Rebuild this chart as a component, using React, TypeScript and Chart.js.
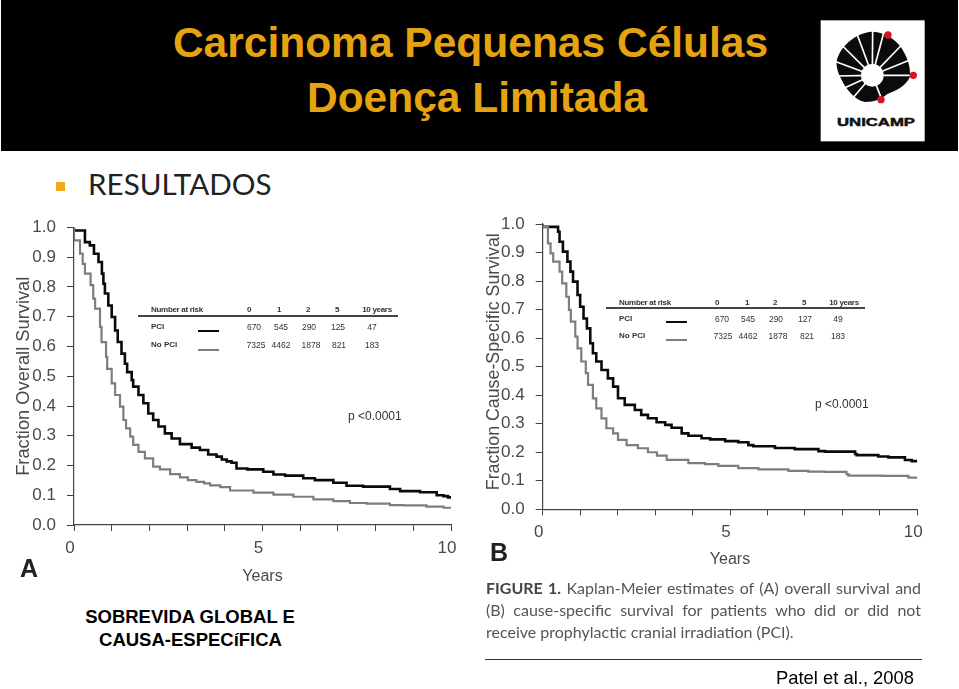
import React, { useEffect, useRef } from "react";
import { Chart, registerables } from "chart.js";

Chart.register(...registerables);

const xTickValues = [0, 5, 10];
const riskColumns = ["0", "1", "2", "5", "10 years"];

const overallPciT = [0, 0.29, 0.42, 0.53, 0.65, 0.74, 0.78, 0.82, 0.91, 1.0, 1.09, 1.16, 1.26, 1.35, 1.41, 1.53, 1.57, 1.71, 1.84, 1.97, 2.1, 2.24, 2.41, 2.59, 2.81, 3.12, 3.34, 3.56, 3.78, 3.92, 4.05, 4.18, 4.31, 4.6, 5.02, 5.29, 5.6, 6.08, 6.39, 6.88, 7.23, 7.67, 8.38, 8.65, 9.18, 9.62, 9.8, 9.92, 10];
const overallPciS = [1, 0.99, 0.951, 0.94, 0.912, 0.884, 0.845, 0.811, 0.778, 0.738, 0.699, 0.654, 0.615, 0.576, 0.542, 0.514, 0.487, 0.465, 0.437, 0.409, 0.375, 0.353, 0.331, 0.308, 0.291, 0.272, 0.26, 0.252, 0.237, 0.23, 0.22, 0.214, 0.209, 0.19, 0.187, 0.179, 0.17, 0.166, 0.157, 0.151, 0.142, 0.132, 0.129, 0.121, 0.114, 0.11, 0.1, 0.097, 0.093];
const overallNoT = [0, 0.16, 0.23, 0.29, 0.44, 0.51, 0.56, 0.69, 0.73, 0.85, 0.88, 1.0, 1.09, 1.22, 1.31, 1.38, 1.49, 1.57, 1.71, 1.88, 2.1, 2.28, 2.55, 2.81, 3.02, 3.25, 3.45, 3.61, 3.88, 4.14, 4.76, 5.29, 5.82, 6.35, 6.88, 7.32, 7.76, 8.38, 8.73, 9.35, 9.8, 10];
const overallNoS = [1, 0.957, 0.912, 0.878, 0.845, 0.806, 0.761, 0.727, 0.666, 0.615, 0.565, 0.525, 0.476, 0.437, 0.398, 0.353, 0.325, 0.297, 0.269, 0.246, 0.224, 0.196, 0.187, 0.171, 0.16, 0.151, 0.145, 0.14, 0.133, 0.127, 0.116, 0.109, 0.102, 0.095, 0.086, 0.08, 0.074, 0.072, 0.067, 0.066, 0.062, 0.058];

const causePciT = [0, 0.41, 0.45, 0.54, 0.66, 0.74, 0.81, 0.93, 1.0, 1.09, 1.18, 1.27, 1.34, 1.43, 1.57, 1.74, 1.88, 2.01, 2.19, 2.46, 2.63, 2.81, 3.04, 3.27, 3.44, 3.71, 3.89, 4.24, 4.47, 4.87, 5.22, 5.49, 5.62, 6.2, 6.73, 7.36, 7.54, 8.34, 8.38, 8.96, 9.23, 9.67, 9.85, 10];
const causePciS = [1, 0.99, 0.973, 0.938, 0.903, 0.868, 0.833, 0.798, 0.751, 0.71, 0.669, 0.634, 0.582, 0.547, 0.518, 0.488, 0.459, 0.43, 0.389, 0.366, 0.348, 0.331, 0.319, 0.305, 0.296, 0.286, 0.266, 0.258, 0.249, 0.245, 0.239, 0.235, 0.225, 0.221, 0.215, 0.211, 0.204, 0.202, 0.194, 0.19, 0.185, 0.182, 0.173, 0.169];
const causeNoT = [0, 0.14, 0.21, 0.28, 0.45, 0.52, 0.63, 0.7, 0.75, 0.87, 0.93, 1.03, 1.15, 1.21, 1.34, 1.43, 1.57, 1.7, 1.88, 2.01, 2.24, 2.54, 2.81, 3.05, 3.31, 3.89, 4.33, 4.69, 5.22, 5.76, 6.56, 7.09, 7.54, 8.11, 8.16, 9.05, 9.76, 10];
const causeNoS = [1, 0.99, 0.932, 0.897, 0.868, 0.833, 0.792, 0.745, 0.699, 0.658, 0.605, 0.564, 0.518, 0.477, 0.436, 0.389, 0.354, 0.319, 0.284, 0.266, 0.243, 0.225, 0.214, 0.2, 0.188, 0.173, 0.162, 0.158, 0.152, 0.144, 0.14, 0.135, 0.132, 0.131, 0.123, 0.118, 0.117, 0.111];

const riskA = { pci: ["670", "545", "290", "125", "47"], none: ["7325", "4462", "1878", "821", "183"] };
const riskB = { pci: ["670", "545", "290", "127", "49"], none: ["7325", "4462", "1878", "821", "183"] };

const pair = (t: number[], s: number[]) => t.map((x, i) => ({ x, y: s[i] }));

type KMProps = {
  left: number; top: number; width: number; height: number;
  plotLeft: number; plotRight: number; plotTop: number; plotBottom: number;
  title: string; titleSize: number; titlePad: number; yearsPad: number;
  pci: { x: number; y: number }[]; none: { x: number; y: number }[];
};

function KMChart(p: KMProps) {
  const ref = useRef<HTMLCanvasElement | null>(null);
  useEffect(() => {
    const chart = new Chart(ref.current!, {
      type: "line",
      data: {
        datasets: [
          { label: "No PCI", data: p.none, borderColor: "#7d7d7d", borderWidth: 2.2, pointRadius: 0, stepped: "after" },
          { label: "PCI", data: p.pci, borderColor: "#0a0a0a", borderWidth: 2.6, pointRadius: 0, stepped: "after" },
        ],
      },
      options: {
        animation: false,
        responsive: false,
        layout: { padding: { top: p.plotTop, right: p.width - p.plotRight, left: 0, bottom: 0 } },
        plugins: { legend: { display: false }, tooltip: { enabled: false } },
        scales: {
          x: {
            type: "linear", min: 0, max: 10,
            afterFit: (s: any) => { s.height = p.height - p.plotBottom; },
            border: { color: "#444", width: 1.2 },
            grid: { drawOnChartArea: false, drawTicks: true, tickLength: 6, color: "#444" },
            ticks: {
              stepSize: 1, autoSkip: false, maxRotation: 0, labelOffset: -4, padding: 7,
              color: "#4a4a4a", font: { family: "Liberation Sans", size: 17 },
              callback: (v: any) => (xTickValues.includes(v) ? String(v) : ""),
            },
            title: { display: true, text: "Years", color: "#4a4a4a", font: { family: "Liberation Sans", size: 16 }, padding: { top: 0, bottom: p.yearsPad } },
          },
          y: {
            min: 0, max: 1,
            afterFit: (s: any) => { s.width = p.plotLeft; },
            border: { color: "#444", width: 1.2 },
            grid: { drawOnChartArea: false, drawTicks: true, tickLength: 7, color: "#444" },
            ticks: {
              stepSize: 0.1, padding: 11, color: "#4a4a4a", font: { family: "Liberation Sans", size: 17 },
              callback: (v: any) => Number(v).toFixed(1),
            },
            title: { display: true, text: p.title, color: "#4a4a4a", font: { family: "Liberation Sans", size: p.titleSize }, padding: { top: p.titlePad, bottom: 0 } },
          },
        },
      } as any,
    });
    return () => chart.destroy();
  }, []);
  return (
    <canvas
      ref={ref}
      width={p.width}
      height={p.height}
      style={{ position: "absolute", left: p.left, top: p.top, width: p.width, height: p.height, filter: "blur(0.35px)" }}
    />
  );
}

const sans = "'Liberation Sans', Arial, sans-serif";

function T(props: { x: number; y: number; size: number; children: React.ReactNode; color?: string; bold?: boolean; center?: boolean; font?: string; track?: number }) {
  const { x, y, size, color = "#000", bold, center, font = sans, track = 0 } = props;
  return (
    <div
      style={{
        position: "absolute", left: x, top: y, fontFamily: font, fontSize: size, color, letterSpacing: track,
        fontWeight: bold ? 700 : 400, lineHeight: 1, whiteSpace: "nowrap",
        transform: `translate(${center ? "-50%" : "0"}, -50%)`,
      }}
    >
      {props.children}
    </div>
  );
}

function Rule(props: { x1: number; x2: number; y: number; h: number; color: string }) {
  return <div style={{ position: "absolute", left: props.x1, width: props.x2 - props.x1, top: props.y - props.h / 2, height: props.h, background: props.color }} />;
}

function RiskTable(props: {
  label: number; lineL: number; lineR: number; head: number; line: number; rowA: number; rowB: number; swL: number; swR: number;
  swA: number; swB: number; cols: number[]; a: number[]; b: number[]; data: { pci: string[]; none: string[] };
}) {
  const c = "#333";
  return (
    <>
      <T x={props.label} y={props.head} size={8} color={c} bold track={-0.3}>Number at risk</T>
      {riskColumns.map((t, i) => <T key={t} x={props.cols[i]} y={props.head} size={8} color={c} center bold track={-0.3}>{t}</T>)}
      <Rule x1={props.lineL} x2={props.lineR} y={props.line} h={1.2} color="#444" />
      <T x={props.label} y={props.rowA} size={8} color={c} bold>PCI</T>
      <T x={props.label} y={props.rowB} size={8} color={c} bold>No PCI</T>
      <Rule x1={props.swL} x2={props.swR} y={props.swA} h={2.4} color="#0a0a0a" />
      <Rule x1={props.swL} x2={props.swR} y={props.swB} h={2.4} color="#7d7d7d" />
      {props.data.pci.map((t, i) => <T key={i} x={props.a[i]} y={props.rowA} size={8.5} color={c} center>{t}</T>)}
      {props.data.none.map((t, i) => <T key={i} x={props.b[i]} y={props.rowB} size={8.5} color={c} center>{t}</T>)}
    </>
  );
}

function Logo() {
  const spokes = [[218, 90], [170, 100], [128, 138], [104, 184], [104, 228], [125, 268], [158, 295], [248, 305], [335, 226], [335, 178], [305, 135], [252, 95]];
  const blob = "M215 95 C250 95 285 115 305 145 C322 172 332 200 330 230 C315 262 285 272 262 282 C245 296 225 306 195 306 C165 300 140 270 125 240 C112 215 106 195 112 175 C125 135 170 98 215 95 Z";
  return (
    <svg style={{ position: "absolute", left: 800, top: 0 }} width={159} height={160} viewBox="0 0 477 480">
      <rect x={62} y={61} width={312} height={363} fill="#fff" />
      <path d={blob} fill="#0b0b0b" />
      {spokes.map(([x, y], i) => <line key={i} x1={217} y1={226} x2={x} y2={y} stroke="#fff" strokeWidth={5} />)}
      <circle cx={217} cy={226} r={34} fill="#fff" />
      <circle cx={264} cy={105} r={11} fill="#d3161f" />
      <circle cx={340} cy={226} r={11} fill="#d3161f" />
      <circle cx={243} cy={299} r={11} fill="#d3161f" />
      <text x={228} y={379} textAnchor="middle" fontFamily={sans} fontWeight={700} fontSize={35} textLength={234} lengthAdjust="spacingAndGlyphs" fill="#111" stroke="#111" strokeWidth={1.5}>UNICAMP</text>
    </svg>
  );
}

export default function App() {
  const gold = "#e6a311";
  const captionStyle: React.CSSProperties = {
    position: "absolute", left: 486, width: 435, fontFamily: "Lato, sans-serif", fontSize: 16, color: "#555",
    lineHeight: "20px", textAlign: "justify", textAlignLast: "justify", whiteSpace: "normal",
  };
  return (
    <div style={{ position: "fixed", left: 0, top: 0, width: 959, height: 689, background: "#fff", overflow: "hidden" }}>
      <div style={{ position: "absolute", left: 1, top: 0, width: 957, height: 151, background: "#000" }} />
      <T x={470.5} y={43} size={42.5} color={gold} bold center>Carcinoma Pequenas Células</T>
      <T x={477} y={98} size={42.5} color={gold} bold center>Doença Limitada</T>
      <Logo />
      <div style={{ position: "absolute", left: 56, top: 182, width: 9, height: 9, background: "#f0a81c" }} />
      <T x={88} y={184} size={29.6} color="#222" font="Lato, sans-serif">RESULTADOS</T>

      <KMChart left={0} top={195} width={470} height={395} plotLeft={74} plotRight={451} plotTop={32.5} plotBottom={330}
        title="Fraction Overall Survival" titleSize={18.3} titlePad={13} yearsPad={3.5}
        pci={pair(overallPciT, overallPciS)} none={pair(overallNoT, overallNoS)} />
      <KMChart left={475} top={190} width={484} height={395} plotLeft={67.7} plotRight={442.3} plotTop={34} plotBottom={319.3}
        title={"\u00A0\u00A0Fraction Cause-Specific Survival"} titleSize={17.8} titlePad={8} yearsPad={15.5}
        pci={pair(causePciT, causePciS)} none={pair(causeNoT, causeNoS)} />

      <RiskTable label={151} lineL={138} lineR={398} head={310} line={316} rowA={327} rowB={345} swL={198} swR={219} swA={331} swB={350}
        cols={[249, 279, 308, 337, 377]} a={[254, 281, 309, 338, 372]} b={[256, 281, 311, 339, 372]} data={riskA} />
      <RiskTable label={619} lineL={606} lineR={865} head={303} line={308} rowA={319} rowB={336} swL={666} swR={687} swA={322} swB={340}
        cols={[717, 747, 775, 804, 844]} a={[722, 748, 776, 805, 838]} b={[723, 748, 778, 807, 838]} data={riskB} />

      <T x={348} y={416} size={12} color="#333">p &lt;0.0001</T>
      <T x={815} y={404} size={12} color="#333">p &lt;0.0001</T>
      <T x={20} y={568} size={25} color="#222" bold>A</T>
      <T x={490} y={552} size={25} color="#222" bold>B</T>

      <T x={190} y={617} size={18.5} bold center>SOBREVIDA GLOBAL E</T>
      <T x={190.5} y={640} size={18.5} bold center>CAUSA-ESPECíFICA</T>

      <div style={{ ...captionStyle, top: 578 }}><b style={{ color: "#444" }}>FIGURE 1.</b> Kaplan-Meier estimates of (A) overall survival and</div>
      <div style={{ ...captionStyle, top: 600 }}>(B) cause-specific survival for patients who did or did not</div>
      <div style={{ ...captionStyle, top: 622, textAlign: "left", textAlignLast: "left", width: 330 }}>receive prophylactic cranial irradiation (PCI).</div>
      <Rule x1={485} x2={922} y={659} h={1} color="#333" />
      <T x={776} y={678} size={18.4}>Patel et al., 2008</T>
    </div>
  );
}
